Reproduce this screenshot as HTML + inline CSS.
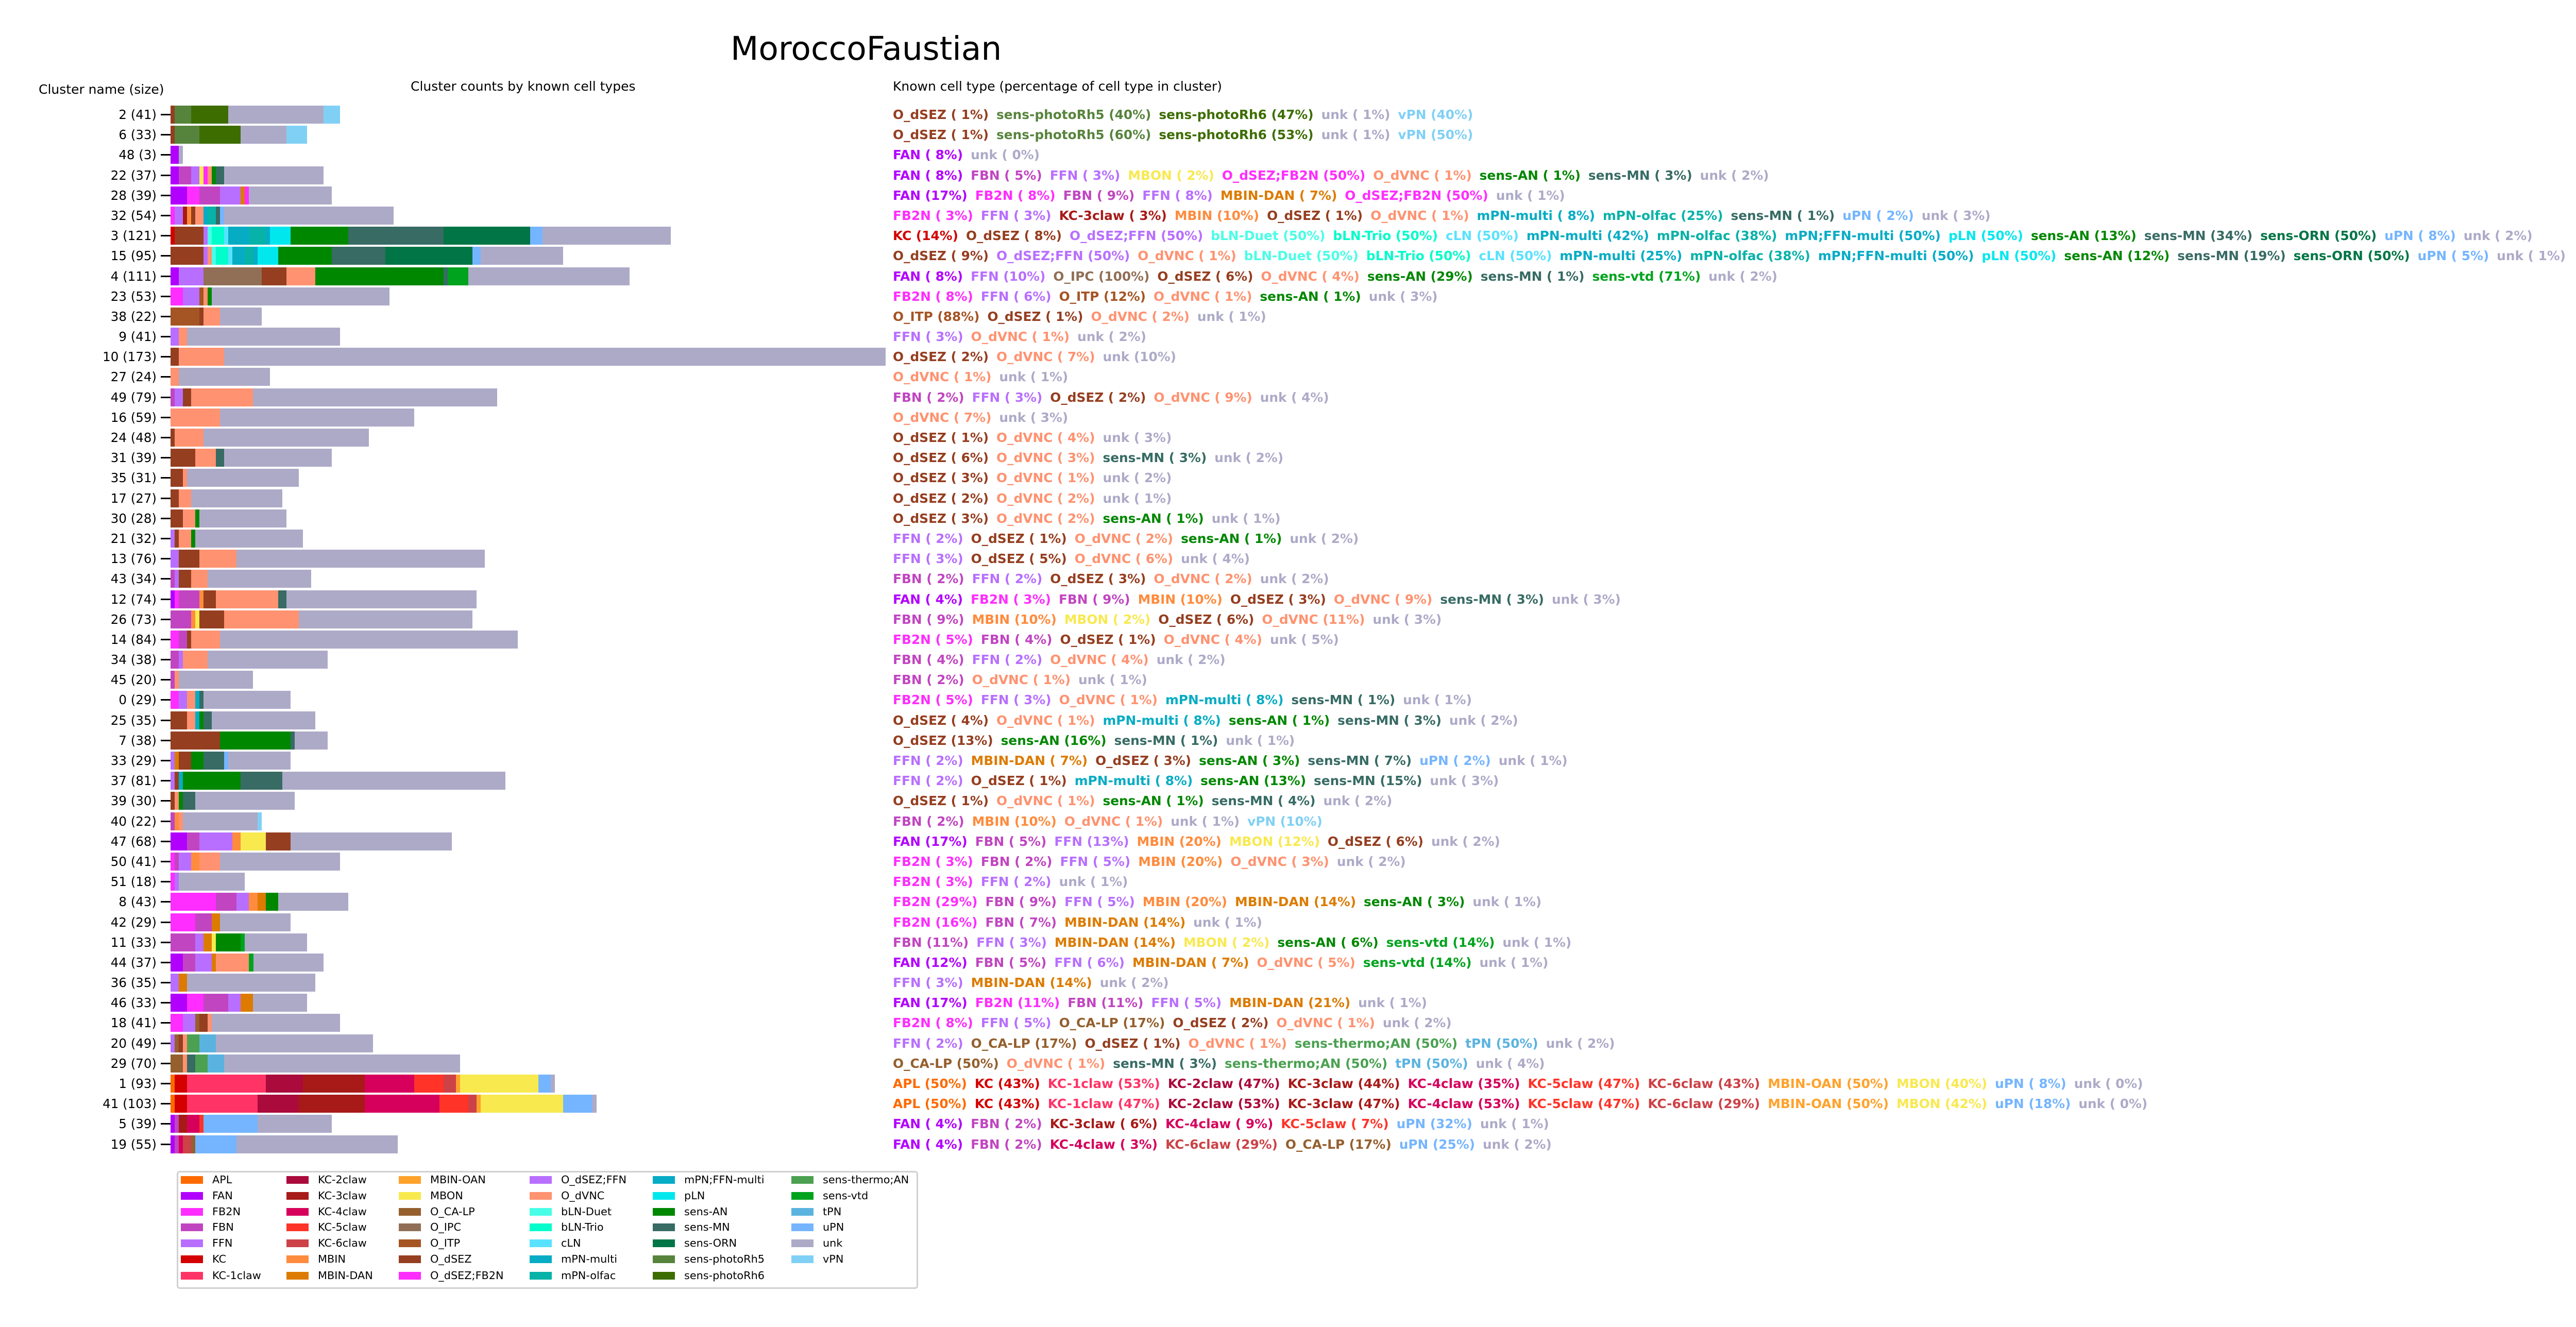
<!DOCTYPE html>
<html><head><meta charset="utf-8"><style>
html,body{margin:0;padding:0;background:#fff}
body{width:5060px;height:2576px;position:relative;overflow:hidden;font-family:"DejaVu Sans","Liberation Sans",sans-serif;color:#000}
.h{position:absolute;white-space:nowrap;line-height:1}
#rows{position:absolute;left:0;top:205px;width:5060px}
.r{position:relative;height:39.2px}
.l{position:absolute;left:0;top:0;width:304px;text-align:right;line-height:35px;font-size:24.5px;white-space:nowrap}
.t{position:absolute;left:312px;top:16px;width:19px;height:3px;background:#000}
.r p{position:absolute;left:331px;top:0;height:35px;margin:0;display:flex}
.r p i{display:block;height:35px;background:var(--c)}
.a{position:absolute;left:1733px;top:0;line-height:35px;white-space:nowrap;font-weight:bold;font-size:24.8px}
.a em{font-style:normal;color:var(--c);margin-right:15px}
.ap{--c:#ff6a00}.fa{--c:#b200ff}.f2{--c:#ff2dff}.fb{--c:#c145c1}.ff{--c:#b86fff}.kc{--c:#d40000}
.k1{--c:#ff3366}.k2{--c:#aa0a3c}.k3{--c:#a81a17}.k4{--c:#d6005c}.k5{--c:#ff3328}.k6{--c:#cc4247}
.mb{--c:#ff8b3d}.md{--c:#dc7b00}.mo{--c:#ffa22c}.mn{--c:#f8e94f}.ca{--c:#955f2e}.ip{--c:#906f56}
.it{--c:#a55424}.ds{--c:#953e20}.dsf{--c:#ff2dff}.dsff{--c:#b86fff}.dv{--c:#ff9270}.bd{--c:#49fee6}
.bt{--c:#00fdcb}.cl{--c:#59e2ff}.pm{--c:#06acc4}.po{--c:#07b2a8}.pf{--c:#06acc6}.pl{--c:#00e8ee}
.sa{--c:#008700}.sm{--c:#376b64}.so{--c:#017545}.r5{--c:#57843c}.r6{--c:#3d6d00}.th{--c:#4ba151}
.sv{--c:#00a31e}.tp{--c:#5ab3df}.up{--c:#75b5ff}.un{--c:#adaac8}.vp{--c:#80d0f5}
#leg{position:absolute;left:343px;top:2273px;width:1433px;height:223px;border:3px solid #d0d0d0;border-radius:6px}
.lg{position:absolute;font-size:20.8px;line-height:31px;white-space:nowrap}
.lg b{position:absolute;left:0;top:8px;width:43px;height:15px;background:var(--c)}
.lg span{position:absolute;left:61px;top:0}
</style></head><body>
<div class="h" style="left:1418px;top:63px;font-size:63px">MoroccoFaustian</div>
<div class="h" style="left:75px;top:161px;font-size:25px">Cluster name (size)</div>
<div class="h" style="left:797px;top:155px;font-size:25px">Cluster counts by known cell types</div>
<div class="h" style="left:1733px;top:155px;font-size:25px">Known cell type (percentage of cell type in cluster)</div>

<div id="rows">
<div class="r"><span class="l">2 (41)</span><i class="t"></i><p style="width:calc(41*8.024px)"><i class="ds" style="flex:1"></i><i class="r5" style="flex:4"></i><i class="r6" style="flex:9"></i><i class="un" style="flex:23"></i><i class="vp" style="flex:4"></i></p><div class="a"><em class="ds">O_dSEZ ( 1%)</em><em class="r5">sens-photoRh5 (40%)</em><em class="r6">sens-photoRh6 (47%)</em><em class="un">unk ( 1%)</em><em class="vp">vPN (40%)</em></div></div>
<div class="r"><span class="l">6 (33)</span><i class="t"></i><p style="width:calc(33*8.024px)"><i class="ds" style="flex:1"></i><i class="r5" style="flex:6"></i><i class="r6" style="flex:10"></i><i class="un" style="flex:11"></i><i class="vp" style="flex:5"></i></p><div class="a"><em class="ds">O_dSEZ ( 1%)</em><em class="r5">sens-photoRh5 (60%)</em><em class="r6">sens-photoRh6 (53%)</em><em class="un">unk ( 1%)</em><em class="vp">vPN (50%)</em></div></div>
<div class="r"><span class="l">48 (3)</span><i class="t"></i><p style="width:calc(3*8.024px)"><i class="fa" style="flex:2"></i><i class="un" style="flex:1"></i></p><div class="a"><em class="fa">FAN ( 8%)</em><em class="un">unk ( 0%)</em></div></div>
<div class="r"><span class="l">22 (37)</span><i class="t"></i><p style="width:calc(37*8.024px)"><i class="fa" style="flex:2"></i><i class="fb" style="flex:3"></i><i class="ff" style="flex:2"></i><i class="mn" style="flex:1"></i><i class="dsf" style="flex:1"></i><i class="dv" style="flex:1"></i><i class="sa" style="flex:1"></i><i class="sm" style="flex:2"></i><i class="un" style="flex:24"></i></p><div class="a"><em class="fa">FAN ( 8%)</em><em class="fb">FBN ( 5%)</em><em class="ff">FFN ( 3%)</em><em class="mn">MBON ( 2%)</em><em class="dsf">O_dSEZ;FB2N (50%)</em><em class="dv">O_dVNC ( 1%)</em><em class="sa">sens-AN ( 1%)</em><em class="sm">sens-MN ( 3%)</em><em class="un">unk ( 2%)</em></div></div>
<div class="r"><span class="l">28 (39)</span><i class="t"></i><p style="width:calc(39*8.024px)"><i class="fa" style="flex:4"></i><i class="f2" style="flex:3"></i><i class="fb" style="flex:5"></i><i class="ff" style="flex:5"></i><i class="md" style="flex:1"></i><i class="dsf" style="flex:1"></i><i class="un" style="flex:20"></i></p><div class="a"><em class="fa">FAN (17%)</em><em class="f2">FB2N ( 8%)</em><em class="fb">FBN ( 9%)</em><em class="ff">FFN ( 8%)</em><em class="md">MBIN-DAN ( 7%)</em><em class="dsf">O_dSEZ;FB2N (50%)</em><em class="un">unk ( 1%)</em></div></div>
<div class="r"><span class="l">32 (54)</span><i class="t"></i><p style="width:calc(54*8.024px)"><i class="f2" style="flex:1"></i><i class="ff" style="flex:2"></i><i class="k3" style="flex:1"></i><i class="mb" style="flex:1"></i><i class="ds" style="flex:1"></i><i class="dv" style="flex:2"></i><i class="pm" style="flex:1"></i><i class="po" style="flex:2"></i><i class="sm" style="flex:1"></i><i class="up" style="flex:1"></i><i class="un" style="flex:41"></i></p><div class="a"><em class="f2">FB2N ( 3%)</em><em class="ff">FFN ( 3%)</em><em class="k3">KC-3claw ( 3%)</em><em class="mb">MBIN (10%)</em><em class="ds">O_dSEZ ( 1%)</em><em class="dv">O_dVNC ( 1%)</em><em class="pm">mPN-multi ( 8%)</em><em class="po">mPN-olfac (25%)</em><em class="sm">sens-MN ( 1%)</em><em class="up">uPN ( 2%)</em><em class="un">unk ( 3%)</em></div></div>
<div class="r"><span class="l">3 (121)</span><i class="t"></i><p style="width:calc(121*8.024px)"><i class="kc" style="flex:1"></i><i class="ds" style="flex:7"></i><i class="dsff" style="flex:1"></i><i class="bd" style="flex:1"></i><i class="bt" style="flex:3"></i><i class="cl" style="flex:1"></i><i class="pm" style="flex:5"></i><i class="po" style="flex:4"></i><i class="pf" style="flex:1"></i><i class="pl" style="flex:5"></i><i class="sa" style="flex:14"></i><i class="sm" style="flex:23"></i><i class="so" style="flex:21"></i><i class="up" style="flex:3"></i><i class="un" style="flex:31"></i></p><div class="a"><em class="kc">KC (14%)</em><em class="ds">O_dSEZ ( 8%)</em><em class="dsff">O_dSEZ;FFN (50%)</em><em class="bd">bLN-Duet (50%)</em><em class="bt">bLN-Trio (50%)</em><em class="cl">cLN (50%)</em><em class="pm">mPN-multi (42%)</em><em class="po">mPN-olfac (38%)</em><em class="pf">mPN;FFN-multi (50%)</em><em class="pl">pLN (50%)</em><em class="sa">sens-AN (13%)</em><em class="sm">sens-MN (34%)</em><em class="so">sens-ORN (50%)</em><em class="up">uPN ( 8%)</em><em class="un">unk ( 2%)</em></div></div>
<div class="r"><span class="l">15 (95)</span><i class="t"></i><p style="width:calc(95*8.024px)"><i class="ds" style="flex:8"></i><i class="dsff" style="flex:1"></i><i class="dv" style="flex:1"></i><i class="bd" style="flex:1"></i><i class="bt" style="flex:3"></i><i class="cl" style="flex:1"></i><i class="pm" style="flex:3"></i><i class="po" style="flex:2"></i><i class="pf" style="flex:1"></i><i class="pl" style="flex:5"></i><i class="sa" style="flex:13"></i><i class="sm" style="flex:13"></i><i class="so" style="flex:21"></i><i class="up" style="flex:2"></i><i class="un" style="flex:20"></i></p><div class="a"><em class="ds">O_dSEZ ( 9%)</em><em class="dsff">O_dSEZ;FFN (50%)</em><em class="dv">O_dVNC ( 1%)</em><em class="bd">bLN-Duet (50%)</em><em class="bt">bLN-Trio (50%)</em><em class="cl">cLN (50%)</em><em class="pm">mPN-multi (25%)</em><em class="po">mPN-olfac (38%)</em><em class="pf">mPN;FFN-multi (50%)</em><em class="pl">pLN (50%)</em><em class="sa">sens-AN (12%)</em><em class="sm">sens-MN (19%)</em><em class="so">sens-ORN (50%)</em><em class="up">uPN ( 5%)</em><em class="un">unk ( 1%)</em></div></div>
<div class="r"><span class="l">4 (111)</span><i class="t"></i><p style="width:calc(111*8.024px)"><i class="fa" style="flex:2"></i><i class="ff" style="flex:6"></i><i class="ip" style="flex:14"></i><i class="ds" style="flex:6"></i><i class="dv" style="flex:7"></i><i class="sa" style="flex:31"></i><i class="sm" style="flex:1"></i><i class="sv" style="flex:5"></i><i class="un" style="flex:39"></i></p><div class="a"><em class="fa">FAN ( 8%)</em><em class="ff">FFN (10%)</em><em class="ip">O_IPC (100%)</em><em class="ds">O_dSEZ ( 6%)</em><em class="dv">O_dVNC ( 4%)</em><em class="sa">sens-AN (29%)</em><em class="sm">sens-MN ( 1%)</em><em class="sv">sens-vtd (71%)</em><em class="un">unk ( 2%)</em></div></div>
<div class="r"><span class="l">23 (53)</span><i class="t"></i><p style="width:calc(53*8.024px)"><i class="f2" style="flex:3"></i><i class="ff" style="flex:4"></i><i class="it" style="flex:1"></i><i class="dv" style="flex:1"></i><i class="sa" style="flex:1"></i><i class="un" style="flex:43"></i></p><div class="a"><em class="f2">FB2N ( 8%)</em><em class="ff">FFN ( 6%)</em><em class="it">O_ITP (12%)</em><em class="dv">O_dVNC ( 1%)</em><em class="sa">sens-AN ( 1%)</em><em class="un">unk ( 3%)</em></div></div>
<div class="r"><span class="l">38 (22)</span><i class="t"></i><p style="width:calc(22*8.024px)"><i class="it" style="flex:7"></i><i class="ds" style="flex:1"></i><i class="dv" style="flex:4"></i><i class="un" style="flex:10"></i></p><div class="a"><em class="it">O_ITP (88%)</em><em class="ds">O_dSEZ ( 1%)</em><em class="dv">O_dVNC ( 2%)</em><em class="un">unk ( 1%)</em></div></div>
<div class="r"><span class="l">9 (41)</span><i class="t"></i><p style="width:calc(41*8.024px)"><i class="ff" style="flex:2"></i><i class="dv" style="flex:2"></i><i class="un" style="flex:37"></i></p><div class="a"><em class="ff">FFN ( 3%)</em><em class="dv">O_dVNC ( 1%)</em><em class="un">unk ( 2%)</em></div></div>
<div class="r"><span class="l">10 (173)</span><i class="t"></i><p style="width:calc(173*8.024px)"><i class="ds" style="flex:2"></i><i class="dv" style="flex:11"></i><i class="un" style="flex:160"></i></p><div class="a"><em class="ds">O_dSEZ ( 2%)</em><em class="dv">O_dVNC ( 7%)</em><em class="un">unk (10%)</em></div></div>
<div class="r"><span class="l">27 (24)</span><i class="t"></i><p style="width:calc(24*8.024px)"><i class="dv" style="flex:2"></i><i class="un" style="flex:22"></i></p><div class="a"><em class="dv">O_dVNC ( 1%)</em><em class="un">unk ( 1%)</em></div></div>
<div class="r"><span class="l">49 (79)</span><i class="t"></i><p style="width:calc(79*8.024px)"><i class="fb" style="flex:1"></i><i class="ff" style="flex:2"></i><i class="ds" style="flex:2"></i><i class="dv" style="flex:15"></i><i class="un" style="flex:59"></i></p><div class="a"><em class="fb">FBN ( 2%)</em><em class="ff">FFN ( 3%)</em><em class="ds">O_dSEZ ( 2%)</em><em class="dv">O_dVNC ( 9%)</em><em class="un">unk ( 4%)</em></div></div>
<div class="r"><span class="l">16 (59)</span><i class="t"></i><p style="width:calc(59*8.024px)"><i class="dv" style="flex:12"></i><i class="un" style="flex:47"></i></p><div class="a"><em class="dv">O_dVNC ( 7%)</em><em class="un">unk ( 3%)</em></div></div>
<div class="r"><span class="l">24 (48)</span><i class="t"></i><p style="width:calc(48*8.024px)"><i class="ds" style="flex:1"></i><i class="dv" style="flex:7"></i><i class="un" style="flex:40"></i></p><div class="a"><em class="ds">O_dSEZ ( 1%)</em><em class="dv">O_dVNC ( 4%)</em><em class="un">unk ( 3%)</em></div></div>
<div class="r"><span class="l">31 (39)</span><i class="t"></i><p style="width:calc(39*8.024px)"><i class="ds" style="flex:6"></i><i class="dv" style="flex:5"></i><i class="sm" style="flex:2"></i><i class="un" style="flex:26"></i></p><div class="a"><em class="ds">O_dSEZ ( 6%)</em><em class="dv">O_dVNC ( 3%)</em><em class="sm">sens-MN ( 3%)</em><em class="un">unk ( 2%)</em></div></div>
<div class="r"><span class="l">35 (31)</span><i class="t"></i><p style="width:calc(31*8.024px)"><i class="ds" style="flex:3"></i><i class="dv" style="flex:1"></i><i class="un" style="flex:27"></i></p><div class="a"><em class="ds">O_dSEZ ( 3%)</em><em class="dv">O_dVNC ( 1%)</em><em class="un">unk ( 2%)</em></div></div>
<div class="r"><span class="l">17 (27)</span><i class="t"></i><p style="width:calc(27*8.024px)"><i class="ds" style="flex:2"></i><i class="dv" style="flex:3"></i><i class="un" style="flex:22"></i></p><div class="a"><em class="ds">O_dSEZ ( 2%)</em><em class="dv">O_dVNC ( 2%)</em><em class="un">unk ( 1%)</em></div></div>
<div class="r"><span class="l">30 (28)</span><i class="t"></i><p style="width:calc(28*8.024px)"><i class="ds" style="flex:3"></i><i class="dv" style="flex:3"></i><i class="sa" style="flex:1"></i><i class="un" style="flex:21"></i></p><div class="a"><em class="ds">O_dSEZ ( 3%)</em><em class="dv">O_dVNC ( 2%)</em><em class="sa">sens-AN ( 1%)</em><em class="un">unk ( 1%)</em></div></div>
<div class="r"><span class="l">21 (32)</span><i class="t"></i><p style="width:calc(32*8.024px)"><i class="ff" style="flex:1"></i><i class="ds" style="flex:1"></i><i class="dv" style="flex:3"></i><i class="sa" style="flex:1"></i><i class="un" style="flex:26"></i></p><div class="a"><em class="ff">FFN ( 2%)</em><em class="ds">O_dSEZ ( 1%)</em><em class="dv">O_dVNC ( 2%)</em><em class="sa">sens-AN ( 1%)</em><em class="un">unk ( 2%)</em></div></div>
<div class="r"><span class="l">13 (76)</span><i class="t"></i><p style="width:calc(76*8.024px)"><i class="ff" style="flex:2"></i><i class="ds" style="flex:5"></i><i class="dv" style="flex:9"></i><i class="un" style="flex:60"></i></p><div class="a"><em class="ff">FFN ( 3%)</em><em class="ds">O_dSEZ ( 5%)</em><em class="dv">O_dVNC ( 6%)</em><em class="un">unk ( 4%)</em></div></div>
<div class="r"><span class="l">43 (34)</span><i class="t"></i><p style="width:calc(34*8.024px)"><i class="fb" style="flex:1"></i><i class="ff" style="flex:1"></i><i class="ds" style="flex:3"></i><i class="dv" style="flex:4"></i><i class="un" style="flex:25"></i></p><div class="a"><em class="fb">FBN ( 2%)</em><em class="ff">FFN ( 2%)</em><em class="ds">O_dSEZ ( 3%)</em><em class="dv">O_dVNC ( 2%)</em><em class="un">unk ( 2%)</em></div></div>
<div class="r"><span class="l">12 (74)</span><i class="t"></i><p style="width:calc(74*8.024px)"><i class="fa" style="flex:1"></i><i class="f2" style="flex:1"></i><i class="fb" style="flex:5"></i><i class="mb" style="flex:1"></i><i class="ds" style="flex:3"></i><i class="dv" style="flex:15"></i><i class="sm" style="flex:2"></i><i class="un" style="flex:46"></i></p><div class="a"><em class="fa">FAN ( 4%)</em><em class="f2">FB2N ( 3%)</em><em class="fb">FBN ( 9%)</em><em class="mb">MBIN (10%)</em><em class="ds">O_dSEZ ( 3%)</em><em class="dv">O_dVNC ( 9%)</em><em class="sm">sens-MN ( 3%)</em><em class="un">unk ( 3%)</em></div></div>
<div class="r"><span class="l">26 (73)</span><i class="t"></i><p style="width:calc(73*8.024px)"><i class="fb" style="flex:5"></i><i class="mb" style="flex:1"></i><i class="mn" style="flex:1"></i><i class="ds" style="flex:6"></i><i class="dv" style="flex:18"></i><i class="un" style="flex:42"></i></p><div class="a"><em class="fb">FBN ( 9%)</em><em class="mb">MBIN (10%)</em><em class="mn">MBON ( 2%)</em><em class="ds">O_dSEZ ( 6%)</em><em class="dv">O_dVNC (11%)</em><em class="un">unk ( 3%)</em></div></div>
<div class="r"><span class="l">14 (84)</span><i class="t"></i><p style="width:calc(84*8.024px)"><i class="f2" style="flex:2"></i><i class="fb" style="flex:2"></i><i class="ds" style="flex:1"></i><i class="dv" style="flex:7"></i><i class="un" style="flex:72"></i></p><div class="a"><em class="f2">FB2N ( 5%)</em><em class="fb">FBN ( 4%)</em><em class="ds">O_dSEZ ( 1%)</em><em class="dv">O_dVNC ( 4%)</em><em class="un">unk ( 5%)</em></div></div>
<div class="r"><span class="l">34 (38)</span><i class="t"></i><p style="width:calc(38*8.024px)"><i class="fb" style="flex:2"></i><i class="ff" style="flex:1"></i><i class="dv" style="flex:6"></i><i class="un" style="flex:29"></i></p><div class="a"><em class="fb">FBN ( 4%)</em><em class="ff">FFN ( 2%)</em><em class="dv">O_dVNC ( 4%)</em><em class="un">unk ( 2%)</em></div></div>
<div class="r"><span class="l">45 (20)</span><i class="t"></i><p style="width:calc(20*8.024px)"><i class="fb" style="flex:1"></i><i class="dv" style="flex:1"></i><i class="un" style="flex:18"></i></p><div class="a"><em class="fb">FBN ( 2%)</em><em class="dv">O_dVNC ( 1%)</em><em class="un">unk ( 1%)</em></div></div>
<div class="r"><span class="l">0 (29)</span><i class="t"></i><p style="width:calc(29*8.024px)"><i class="f2" style="flex:2"></i><i class="ff" style="flex:2"></i><i class="dv" style="flex:2"></i><i class="pm" style="flex:1"></i><i class="sm" style="flex:1"></i><i class="un" style="flex:21"></i></p><div class="a"><em class="f2">FB2N ( 5%)</em><em class="ff">FFN ( 3%)</em><em class="dv">O_dVNC ( 1%)</em><em class="pm">mPN-multi ( 8%)</em><em class="sm">sens-MN ( 1%)</em><em class="un">unk ( 1%)</em></div></div>
<div class="r"><span class="l">25 (35)</span><i class="t"></i><p style="width:calc(35*8.024px)"><i class="ds" style="flex:4"></i><i class="dv" style="flex:2"></i><i class="pm" style="flex:1"></i><i class="sa" style="flex:1"></i><i class="sm" style="flex:2"></i><i class="un" style="flex:25"></i></p><div class="a"><em class="ds">O_dSEZ ( 4%)</em><em class="dv">O_dVNC ( 1%)</em><em class="pm">mPN-multi ( 8%)</em><em class="sa">sens-AN ( 1%)</em><em class="sm">sens-MN ( 3%)</em><em class="un">unk ( 2%)</em></div></div>
<div class="r"><span class="l">7 (38)</span><i class="t"></i><p style="width:calc(38*8.024px)"><i class="ds" style="flex:12"></i><i class="sa" style="flex:17"></i><i class="sm" style="flex:1"></i><i class="un" style="flex:8"></i></p><div class="a"><em class="ds">O_dSEZ (13%)</em><em class="sa">sens-AN (16%)</em><em class="sm">sens-MN ( 1%)</em><em class="un">unk ( 1%)</em></div></div>
<div class="r"><span class="l">33 (29)</span><i class="t"></i><p style="width:calc(29*8.024px)"><i class="ff" style="flex:1"></i><i class="md" style="flex:1"></i><i class="ds" style="flex:3"></i><i class="sa" style="flex:3"></i><i class="sm" style="flex:5"></i><i class="up" style="flex:1"></i><i class="un" style="flex:15"></i></p><div class="a"><em class="ff">FFN ( 2%)</em><em class="md">MBIN-DAN ( 7%)</em><em class="ds">O_dSEZ ( 3%)</em><em class="sa">sens-AN ( 3%)</em><em class="sm">sens-MN ( 7%)</em><em class="up">uPN ( 2%)</em><em class="un">unk ( 1%)</em></div></div>
<div class="r"><span class="l">37 (81)</span><i class="t"></i><p style="width:calc(81*8.024px)"><i class="ff" style="flex:1"></i><i class="ds" style="flex:1"></i><i class="pm" style="flex:1"></i><i class="sa" style="flex:14"></i><i class="sm" style="flex:10"></i><i class="un" style="flex:54"></i></p><div class="a"><em class="ff">FFN ( 2%)</em><em class="ds">O_dSEZ ( 1%)</em><em class="pm">mPN-multi ( 8%)</em><em class="sa">sens-AN (13%)</em><em class="sm">sens-MN (15%)</em><em class="un">unk ( 3%)</em></div></div>
<div class="r"><span class="l">39 (30)</span><i class="t"></i><p style="width:calc(30*8.024px)"><i class="ds" style="flex:1"></i><i class="dv" style="flex:1"></i><i class="sa" style="flex:1"></i><i class="sm" style="flex:3"></i><i class="un" style="flex:24"></i></p><div class="a"><em class="ds">O_dSEZ ( 1%)</em><em class="dv">O_dVNC ( 1%)</em><em class="sa">sens-AN ( 1%)</em><em class="sm">sens-MN ( 4%)</em><em class="un">unk ( 2%)</em></div></div>
<div class="r"><span class="l">40 (22)</span><i class="t"></i><p style="width:calc(22*8.024px)"><i class="fb" style="flex:1"></i><i class="mb" style="flex:1"></i><i class="dv" style="flex:1"></i><i class="un" style="flex:18"></i><i class="vp" style="flex:1"></i></p><div class="a"><em class="fb">FBN ( 2%)</em><em class="mb">MBIN (10%)</em><em class="dv">O_dVNC ( 1%)</em><em class="un">unk ( 1%)</em><em class="vp">vPN (10%)</em></div></div>
<div class="r"><span class="l">47 (68)</span><i class="t"></i><p style="width:calc(68*8.024px)"><i class="fa" style="flex:4"></i><i class="fb" style="flex:3"></i><i class="ff" style="flex:8"></i><i class="mb" style="flex:2"></i><i class="mn" style="flex:6"></i><i class="ds" style="flex:6"></i><i class="un" style="flex:39"></i></p><div class="a"><em class="fa">FAN (17%)</em><em class="fb">FBN ( 5%)</em><em class="ff">FFN (13%)</em><em class="mb">MBIN (20%)</em><em class="mn">MBON (12%)</em><em class="ds">O_dSEZ ( 6%)</em><em class="un">unk ( 2%)</em></div></div>
<div class="r"><span class="l">50 (41)</span><i class="t"></i><p style="width:calc(41*8.024px)"><i class="f2" style="flex:1"></i><i class="fb" style="flex:1"></i><i class="ff" style="flex:3"></i><i class="mb" style="flex:2"></i><i class="dv" style="flex:5"></i><i class="un" style="flex:29"></i></p><div class="a"><em class="f2">FB2N ( 3%)</em><em class="fb">FBN ( 2%)</em><em class="ff">FFN ( 5%)</em><em class="mb">MBIN (20%)</em><em class="dv">O_dVNC ( 3%)</em><em class="un">unk ( 2%)</em></div></div>
<div class="r"><span class="l">51 (18)</span><i class="t"></i><p style="width:calc(18*8.024px)"><i class="f2" style="flex:1"></i><i class="ff" style="flex:1"></i><i class="un" style="flex:16"></i></p><div class="a"><em class="f2">FB2N ( 3%)</em><em class="ff">FFN ( 2%)</em><em class="un">unk ( 1%)</em></div></div>
<div class="r"><span class="l">8 (43)</span><i class="t"></i><p style="width:calc(43*8.024px)"><i class="f2" style="flex:11"></i><i class="fb" style="flex:5"></i><i class="ff" style="flex:3"></i><i class="mb" style="flex:2"></i><i class="md" style="flex:2"></i><i class="sa" style="flex:3"></i><i class="un" style="flex:17"></i></p><div class="a"><em class="f2">FB2N (29%)</em><em class="fb">FBN ( 9%)</em><em class="ff">FFN ( 5%)</em><em class="mb">MBIN (20%)</em><em class="md">MBIN-DAN (14%)</em><em class="sa">sens-AN ( 3%)</em><em class="un">unk ( 1%)</em></div></div>
<div class="r"><span class="l">42 (29)</span><i class="t"></i><p style="width:calc(29*8.024px)"><i class="f2" style="flex:6"></i><i class="fb" style="flex:4"></i><i class="md" style="flex:2"></i><i class="un" style="flex:17"></i></p><div class="a"><em class="f2">FB2N (16%)</em><em class="fb">FBN ( 7%)</em><em class="md">MBIN-DAN (14%)</em><em class="un">unk ( 1%)</em></div></div>
<div class="r"><span class="l">11 (33)</span><i class="t"></i><p style="width:calc(33*8.024px)"><i class="fb" style="flex:6"></i><i class="ff" style="flex:2"></i><i class="md" style="flex:2"></i><i class="mn" style="flex:1"></i><i class="sa" style="flex:6"></i><i class="sv" style="flex:1"></i><i class="un" style="flex:15"></i></p><div class="a"><em class="fb">FBN (11%)</em><em class="ff">FFN ( 3%)</em><em class="md">MBIN-DAN (14%)</em><em class="mn">MBON ( 2%)</em><em class="sa">sens-AN ( 6%)</em><em class="sv">sens-vtd (14%)</em><em class="un">unk ( 1%)</em></div></div>
<div class="r"><span class="l">44 (37)</span><i class="t"></i><p style="width:calc(37*8.024px)"><i class="fa" style="flex:3"></i><i class="fb" style="flex:3"></i><i class="ff" style="flex:4"></i><i class="md" style="flex:1"></i><i class="dv" style="flex:8"></i><i class="sv" style="flex:1"></i><i class="un" style="flex:17"></i></p><div class="a"><em class="fa">FAN (12%)</em><em class="fb">FBN ( 5%)</em><em class="ff">FFN ( 6%)</em><em class="md">MBIN-DAN ( 7%)</em><em class="dv">O_dVNC ( 5%)</em><em class="sv">sens-vtd (14%)</em><em class="un">unk ( 1%)</em></div></div>
<div class="r"><span class="l">36 (35)</span><i class="t"></i><p style="width:calc(35*8.024px)"><i class="ff" style="flex:2"></i><i class="md" style="flex:2"></i><i class="un" style="flex:31"></i></p><div class="a"><em class="ff">FFN ( 3%)</em><em class="md">MBIN-DAN (14%)</em><em class="un">unk ( 2%)</em></div></div>
<div class="r"><span class="l">46 (33)</span><i class="t"></i><p style="width:calc(33*8.024px)"><i class="fa" style="flex:4"></i><i class="f2" style="flex:4"></i><i class="fb" style="flex:6"></i><i class="ff" style="flex:3"></i><i class="md" style="flex:3"></i><i class="un" style="flex:13"></i></p><div class="a"><em class="fa">FAN (17%)</em><em class="f2">FB2N (11%)</em><em class="fb">FBN (11%)</em><em class="ff">FFN ( 5%)</em><em class="md">MBIN-DAN (21%)</em><em class="un">unk ( 1%)</em></div></div>
<div class="r"><span class="l">18 (41)</span><i class="t"></i><p style="width:calc(41*8.024px)"><i class="f2" style="flex:3"></i><i class="ff" style="flex:3"></i><i class="ca" style="flex:1"></i><i class="ds" style="flex:2"></i><i class="dv" style="flex:1"></i><i class="un" style="flex:31"></i></p><div class="a"><em class="f2">FB2N ( 8%)</em><em class="ff">FFN ( 5%)</em><em class="ca">O_CA-LP (17%)</em><em class="ds">O_dSEZ ( 2%)</em><em class="dv">O_dVNC ( 1%)</em><em class="un">unk ( 2%)</em></div></div>
<div class="r"><span class="l">20 (49)</span><i class="t"></i><p style="width:calc(49*8.024px)"><i class="ff" style="flex:1"></i><i class="ca" style="flex:1"></i><i class="ds" style="flex:1"></i><i class="dv" style="flex:1"></i><i class="th" style="flex:3"></i><i class="tp" style="flex:4"></i><i class="un" style="flex:38"></i></p><div class="a"><em class="ff">FFN ( 2%)</em><em class="ca">O_CA-LP (17%)</em><em class="ds">O_dSEZ ( 1%)</em><em class="dv">O_dVNC ( 1%)</em><em class="th">sens-thermo;AN (50%)</em><em class="tp">tPN (50%)</em><em class="un">unk ( 2%)</em></div></div>
<div class="r"><span class="l">29 (70)</span><i class="t"></i><p style="width:calc(70*8.024px)"><i class="ca" style="flex:3"></i><i class="dv" style="flex:1"></i><i class="sm" style="flex:2"></i><i class="th" style="flex:3"></i><i class="tp" style="flex:4"></i><i class="un" style="flex:57"></i></p><div class="a"><em class="ca">O_CA-LP (50%)</em><em class="dv">O_dVNC ( 1%)</em><em class="sm">sens-MN ( 3%)</em><em class="th">sens-thermo;AN (50%)</em><em class="tp">tPN (50%)</em><em class="un">unk ( 4%)</em></div></div>
<div class="r"><span class="l">1 (93)</span><i class="t"></i><p style="width:calc(93*8.024px)"><i class="ap" style="flex:1"></i><i class="kc" style="flex:3"></i><i class="k1" style="flex:19"></i><i class="k2" style="flex:9"></i><i class="k3" style="flex:15"></i><i class="k4" style="flex:12"></i><i class="k5" style="flex:7"></i><i class="k6" style="flex:3"></i><i class="mo" style="flex:1"></i><i class="mn" style="flex:19"></i><i class="up" style="flex:3"></i><i class="un" style="flex:1"></i></p><div class="a"><em class="ap">APL (50%)</em><em class="kc">KC (43%)</em><em class="k1">KC-1claw (53%)</em><em class="k2">KC-2claw (47%)</em><em class="k3">KC-3claw (44%)</em><em class="k4">KC-4claw (35%)</em><em class="k5">KC-5claw (47%)</em><em class="k6">KC-6claw (43%)</em><em class="mo">MBIN-OAN (50%)</em><em class="mn">MBON (40%)</em><em class="up">uPN ( 8%)</em><em class="un">unk ( 0%)</em></div></div>
<div class="r"><span class="l">41 (103)</span><i class="t"></i><p style="width:calc(103*8.024px)"><i class="ap" style="flex:1"></i><i class="kc" style="flex:3"></i><i class="k1" style="flex:17"></i><i class="k2" style="flex:10"></i><i class="k3" style="flex:16"></i><i class="k4" style="flex:18"></i><i class="k5" style="flex:7"></i><i class="k6" style="flex:2"></i><i class="mo" style="flex:1"></i><i class="mn" style="flex:20"></i><i class="up" style="flex:7"></i><i class="un" style="flex:1"></i></p><div class="a"><em class="ap">APL (50%)</em><em class="kc">KC (43%)</em><em class="k1">KC-1claw (47%)</em><em class="k2">KC-2claw (53%)</em><em class="k3">KC-3claw (47%)</em><em class="k4">KC-4claw (53%)</em><em class="k5">KC-5claw (47%)</em><em class="k6">KC-6claw (29%)</em><em class="mo">MBIN-OAN (50%)</em><em class="mn">MBON (42%)</em><em class="up">uPN (18%)</em><em class="un">unk ( 0%)</em></div></div>
<div class="r"><span class="l">5 (39)</span><i class="t"></i><p style="width:calc(39*8.024px)"><i class="fa" style="flex:1"></i><i class="fb" style="flex:1"></i><i class="k3" style="flex:2"></i><i class="k4" style="flex:3"></i><i class="k5" style="flex:1"></i><i class="up" style="flex:13"></i><i class="un" style="flex:18"></i></p><div class="a"><em class="fa">FAN ( 4%)</em><em class="fb">FBN ( 2%)</em><em class="k3">KC-3claw ( 6%)</em><em class="k4">KC-4claw ( 9%)</em><em class="k5">KC-5claw ( 7%)</em><em class="up">uPN (32%)</em><em class="un">unk ( 1%)</em></div></div>
<div class="r"><span class="l">19 (55)</span><i class="t"></i><p style="width:calc(55*8.024px)"><i class="fa" style="flex:1"></i><i class="fb" style="flex:1"></i><i class="k4" style="flex:1"></i><i class="k6" style="flex:2"></i><i class="ca" style="flex:1"></i><i class="up" style="flex:10"></i><i class="un" style="flex:39"></i></p><div class="a"><em class="fa">FAN ( 4%)</em><em class="fb">FBN ( 2%)</em><em class="k4">KC-4claw ( 3%)</em><em class="k6">KC-6claw (29%)</em><em class="ca">O_CA-LP (17%)</em><em class="up">uPN (25%)</em><em class="un">unk ( 2%)</em></div></div>
</div>

<div id="leg"></div>
<div class="lg ap" style="left:351px;top:2275px"><b></b><span>APL</span></div>
<div class="lg fa" style="left:351px;top:2306px"><b></b><span>FAN</span></div>
<div class="lg f2" style="left:351px;top:2337px"><b></b><span>FB2N</span></div>
<div class="lg fb" style="left:351px;top:2367px"><b></b><span>FBN</span></div>
<div class="lg ff" style="left:351px;top:2398px"><b></b><span>FFN</span></div>
<div class="lg kc" style="left:351px;top:2429px"><b></b><span>KC</span></div>
<div class="lg k1" style="left:351px;top:2461px"><b></b><span>KC-1claw</span></div>
<div class="lg k2" style="left:556px;top:2275px"><b></b><span>KC-2claw</span></div>
<div class="lg k3" style="left:556px;top:2306px"><b></b><span>KC-3claw</span></div>
<div class="lg k4" style="left:556px;top:2337px"><b></b><span>KC-4claw</span></div>
<div class="lg k5" style="left:556px;top:2367px"><b></b><span>KC-5claw</span></div>
<div class="lg k6" style="left:556px;top:2398px"><b></b><span>KC-6claw</span></div>
<div class="lg mb" style="left:556px;top:2429px"><b></b><span>MBIN</span></div>
<div class="lg md" style="left:556px;top:2461px"><b></b><span>MBIN-DAN</span></div>
<div class="lg mo" style="left:774px;top:2275px"><b></b><span>MBIN-OAN</span></div>
<div class="lg mn" style="left:774px;top:2306px"><b></b><span>MBON</span></div>
<div class="lg ca" style="left:774px;top:2337px"><b></b><span>O_CA-LP</span></div>
<div class="lg ip" style="left:774px;top:2367px"><b></b><span>O_IPC</span></div>
<div class="lg it" style="left:774px;top:2398px"><b></b><span>O_ITP</span></div>
<div class="lg ds" style="left:774px;top:2429px"><b></b><span>O_dSEZ</span></div>
<div class="lg dsf" style="left:774px;top:2461px"><b></b><span>O_dSEZ;FB2N</span></div>
<div class="lg dsff" style="left:1028px;top:2275px"><b></b><span>O_dSEZ;FFN</span></div>
<div class="lg dv" style="left:1028px;top:2306px"><b></b><span>O_dVNC</span></div>
<div class="lg bd" style="left:1028px;top:2337px"><b></b><span>bLN-Duet</span></div>
<div class="lg bt" style="left:1028px;top:2367px"><b></b><span>bLN-Trio</span></div>
<div class="lg cl" style="left:1028px;top:2398px"><b></b><span>cLN</span></div>
<div class="lg pm" style="left:1028px;top:2429px"><b></b><span>mPN-multi</span></div>
<div class="lg po" style="left:1028px;top:2461px"><b></b><span>mPN-olfac</span></div>
<div class="lg pf" style="left:1267px;top:2275px"><b></b><span>mPN;FFN-multi</span></div>
<div class="lg pl" style="left:1267px;top:2306px"><b></b><span>pLN</span></div>
<div class="lg sa" style="left:1267px;top:2337px"><b></b><span>sens-AN</span></div>
<div class="lg sm" style="left:1267px;top:2367px"><b></b><span>sens-MN</span></div>
<div class="lg so" style="left:1267px;top:2398px"><b></b><span>sens-ORN</span></div>
<div class="lg r5" style="left:1267px;top:2429px"><b></b><span>sens-photoRh5</span></div>
<div class="lg r6" style="left:1267px;top:2461px"><b></b><span>sens-photoRh6</span></div>
<div class="lg th" style="left:1536px;top:2275px"><b></b><span>sens-thermo;AN</span></div>
<div class="lg sv" style="left:1536px;top:2306px"><b></b><span>sens-vtd</span></div>
<div class="lg tp" style="left:1536px;top:2337px"><b></b><span>tPN</span></div>
<div class="lg up" style="left:1536px;top:2367px"><b></b><span>uPN</span></div>
<div class="lg un" style="left:1536px;top:2398px"><b></b><span>unk</span></div>
<div class="lg vp" style="left:1536px;top:2429px"><b></b><span>vPN</span></div>
</body></html>
